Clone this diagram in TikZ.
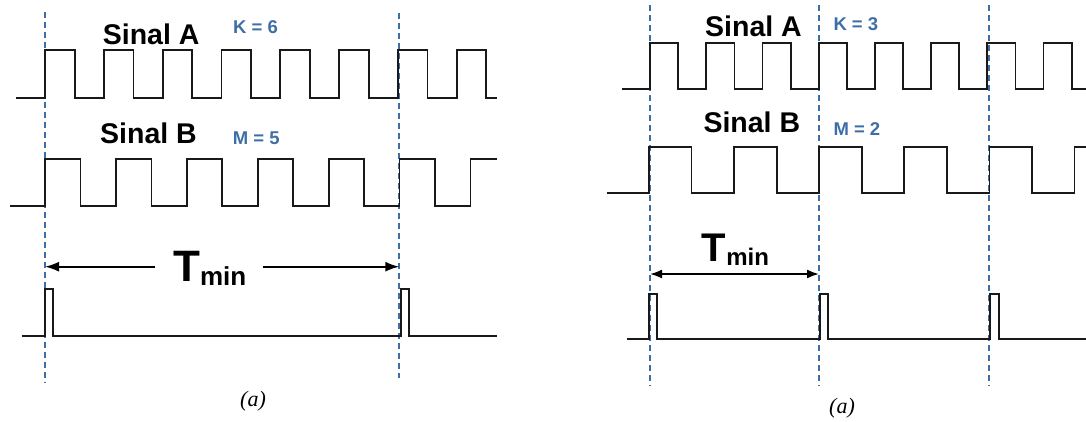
\documentclass[tikz,border=0pt]{standalone}
\usepackage{fontspec}
\setmainfont{Liberation Sans}
\newfontfamily\serifit{Liberation Serif}
\usetikzlibrary{arrows.meta}
\definecolor{dblue}{RGB}{62,110,168}
\definecolor{wave}{RGB}{25,25,25}
\tikzset{
  wavestyle/.style={draw=wave,line width=1.8pt,line join=miter},
  vguide/.style={draw=dblue,line width=1.3pt,dash pattern=on 6pt off 4pt},
  sig/.style={font=\fontsize{28.5}{28.5}\selectfont\bfseries,inner sep=0pt,anchor=base west},
  param/.style={font=\fontsize{18.5}{18.5}\selectfont\bfseries,text=dblue,inner sep=0pt,anchor=base west},
  tlabel/.style={inner sep=0pt,anchor=base west},
  captext/.style={font=\fontsize{22}{22}\selectfont\serifit\itshape,inner sep=0pt},
  dimarrow/.style={draw=black,line width=1.8pt},
  onetip/.style={-{Latex[length=14pt,width=10pt]}}
}
\begin{document}
\begin{tikzpicture}[x=1pt,y=-1pt]
\useasboundingbox (0,0) rectangle (1086,421);
% ---------------- left panel ----------------
\coordinate (lg1t) at (45,11.7);  \coordinate (lg1b) at (45,382);
\coordinate (lg2t) at (399,13);   \coordinate (lg2b) at (399,378);
\draw[vguide] (lg1t) -- (lg1b);
\draw[vguide] (lg2t) -- (lg2b);
% signal A
\draw[wavestyle] (16,97.7) foreach \i in {0,...,7} { -- ({45+\i*58.8},97.7) -- ++(0,-47.7) -- ++(29.6,0) -- ++(0,47.7) } -- (496.7,97.7);
% signal B
\draw[wavestyle] (10,205.7) foreach \i in {0,...,5} { -- ({45+\i*70.9},205.7) -- ++(0,-46.7) -- ++(35.5,0) -- ++(0,46.7) } -- (470.4,205.7) -- (470.4,159) -- (496.7,159);
% pulses
\draw[wavestyle] (21.7,336) -- (45,336) -- (45,289) -- (53.3,289) -- (53.3,336) -- (401,336) -- (401,289) -- (409.3,289) -- (409.3,336) -- (496.7,336);
% labels
\node[sig] (lsa) at (102.7,44) {Sinal A};
\node[param] (lk) at (233,33.3) {K = 6};
\node[sig] (lsb) at (100,143.3) {Sinal B};
\node[param] (lm) at (232.7,144.3) {M = 5};
\node[tlabel] (ltmin) at (173,281.7) {\fontsize{44}{44}\selectfont\bfseries T\raisebox{-3.5pt}{\fontsize{26}{26}\selectfont min}};
\coordinate (la1) at (155,266.7); \coordinate (la1e) at (45,266.7);
\coordinate (la2) at (262.7,266.7); \coordinate (la2e) at (399.3,266.7);
\draw[dimarrow,onetip] (la1) -- (la1e);
\draw[dimarrow,onetip] (la2) -- (la2e);
\node[captext] (lcap) at (253,401) {(a)};
% ---------------- right panel ----------------
\coordinate (rg1t) at (650,5);  \coordinate (rg1b) at (650,386);
\coordinate (rg2t) at (819,5);  \coordinate (rg2b) at (819,386);
\coordinate (rg3t) at (989,5);  \coordinate (rg3b) at (989,386);
\draw[vguide] (rg1t) -- (rg1b);
\draw[vguide] (rg2t) -- (rg2b);
\draw[vguide] (rg3t) -- (rg3b);
% signal A
\draw[wavestyle] (622.3,89) foreach \i in {0,...,7} { -- ({650+\i*56.2},89) -- ++(0,-45.7) -- ++(28.3,0) -- ++(0,45.7) } -- (1086,89);
% signal B
\draw[wavestyle] (606.7,192.7) foreach \i in {0,...,4} { -- ({649+\i*85.1},192.7) -- ++(0,-46) -- ++(42.5,0) -- ++(0,46) } -- (1074.5,192.7) -- (1074.5,146.7) -- (1086,146.7);
% pulses
\draw[wavestyle] (627.3,339) -- (649.3,339) -- (649.3,294) -- (657.3,294) -- (657.3,339) -- (820,339) -- (820,294) -- (828.3,294) -- (828.3,339) -- (990,339) -- (990,294) -- (999,294) -- (999,339) -- (1086,339);
% labels
\node[sig] (rsa) at (705,36) {Sinal A};
\node[param] (rk) at (833.3,30) {K = 3};
\node[sig] (rsb) at (703.3,132.7) {Sinal B};
\node[param] (rm) at (833.3,135) {M = 2};
\node[tlabel] (rtmin) at (701.7,261.7) {\fontsize{40}{40}\selectfont\bfseries T\raisebox{-3.5pt}{\fontsize{24}{24}\selectfont min}};
\coordinate (ra1) at (650,274); \coordinate (ra2) at (819,274);
\draw[dimarrow,{Latex[length=12pt,width=9pt]}-{Latex[length=12pt,width=9pt]}] (ra1) -- (ra2);
\node[captext] (rcap) at (842,408) {(a)};
\end{tikzpicture}
\end{document}
